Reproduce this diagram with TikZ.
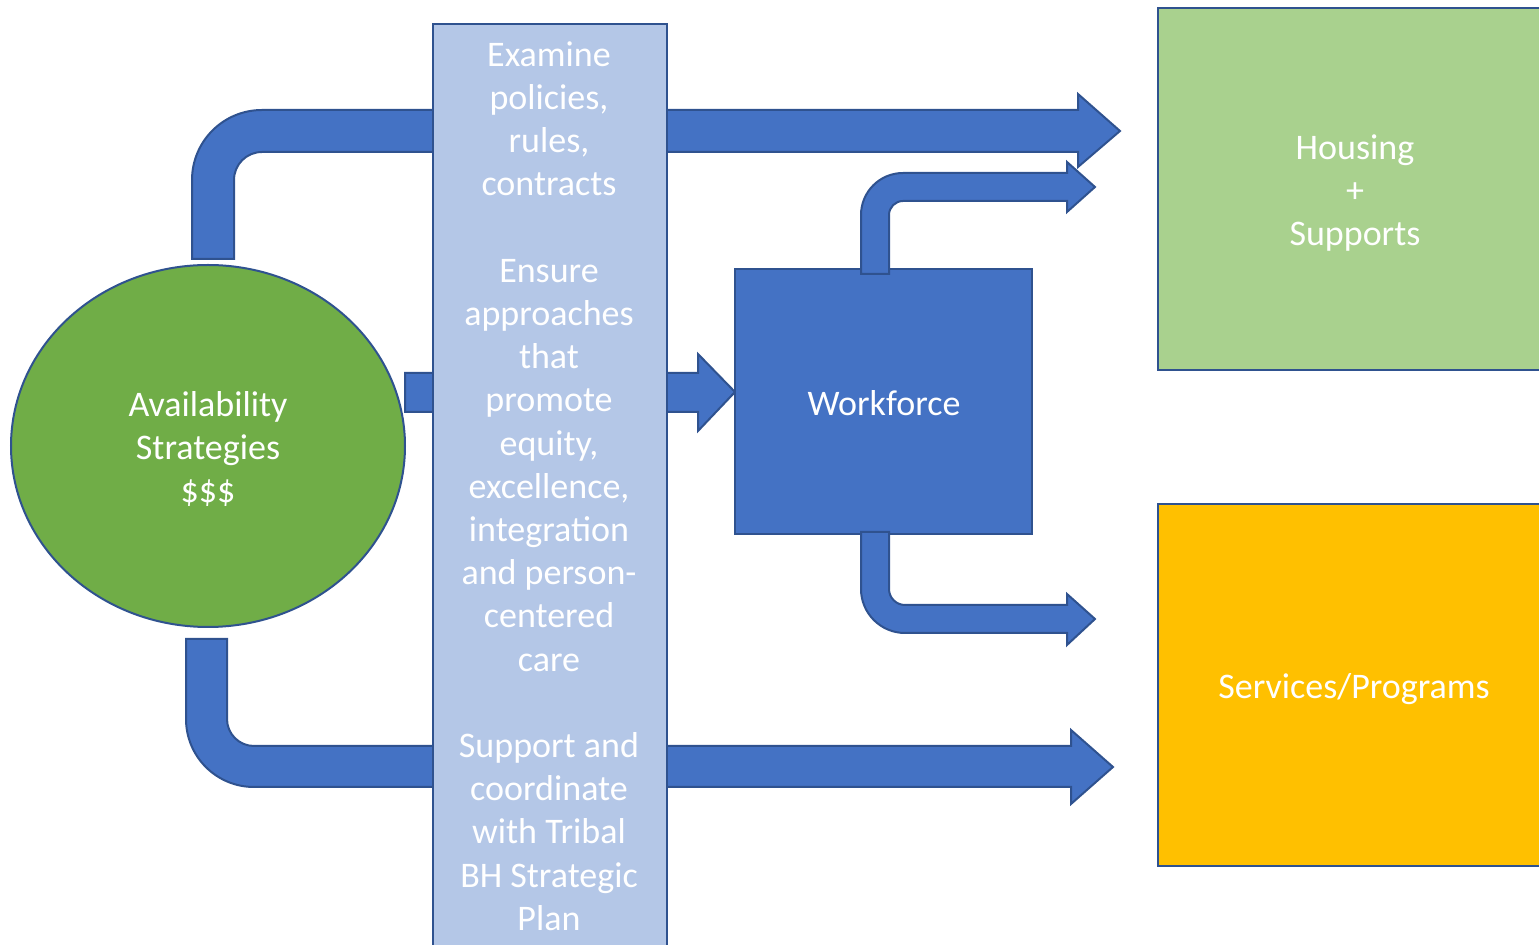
\documentclass[tikz,border=0pt]{standalone}
\usepackage{fontspec}
\setmainfont{Carlito}
\usetikzlibrary{shapes.geometric}
\definecolor{arrowblue}{HTML}{4472C4}
\definecolor{edgeblue}{HTML}{2F528F}
\definecolor{paleblue}{HTML}{B4C7E7}
\definecolor{leafgreen}{HTML}{70AD47}
\definecolor{palegreen}{HTML}{A9D18E}
\definecolor{amber}{HTML}{FFC000}

\begin{document}
\begin{tikzpicture}[x=0.5pt,y=-0.5pt,
  blueedge/.style={draw=edgeblue,line width=1pt},
  blockarrow/.style={blueedge,fill=arrowblue,line join=miter},
  whitetext/.style={text=white,font=\fontsize{18}{21.6}\selectfont,align=center,inner sep=0pt},
  panel/.style={blueedge,rectangle,inner sep=0pt}]
\useasboundingbox (0,0) rectangle (1539,945);
\clip (0,0) rectangle (1539,945);

% bent arrow from the strategies up and over to housing
\draw[blockarrow] (192,259) -- (192,180)
  .. controls (192,141.3) and (223.3,110) .. (262,110)
  -- (1078,110) -- (1078,94) -- (1120,131) -- (1078,167) -- (1078,152)
  -- (262,152) .. controls (246.5,152) and (234,164.5) .. (234,180)
  -- (234,259) -- cycle;

% bent arrow from the strategies down and over to services
\draw[blockarrow] (186,639) -- (186,719)
  .. controls (186,756.6) and (216.4,787) .. (254,787)
  -- (1071,787) -- (1071,804) -- (1113,767) -- (1071,730) -- (1071,746)
  -- (254,746) .. controls (239.1,746) and (227,733.9) .. (227,719)
  -- (227,639) -- cycle;

% straight arrow from the strategies to the workforce
\draw[blockarrow] (405,373) -- (698,373) -- (698,354) -- (735,392)
  -- (698,431) -- (698,412) -- (405,412) -- cycle;

% policy column
\node[panel,fill=paleblue,minimum width=117pt,minimum height=463pt] (col) at (550,487) {};
\node[whitetext] (coltext) at (549,486)
  {Examine\\policies,\\rules,\\contracts\\[21.6pt]
   Ensure\\approaches\\that\\promote\\equity,\\excellence,\\integration\\and person-\\centered\\care\\[21.6pt]
   Support and\\coordinate\\with Tribal\\BH Strategic\\Plan};

% strategies
\node[ellipse,blueedge,fill=leafgreen,minimum width=197pt,minimum height=181pt,inner sep=0pt]
  (avail) at (208,446) {};
\node[whitetext] (availtext) at (208,449) {Availability\\Strategies\\\$\$\$};

% workforce
\node[panel,fill=arrowblue,minimum width=148.5pt,minimum height=132.5pt] (work) at (883.5,401.5) {};
\node[whitetext] (worktext) at (884,403) {Workforce};

% workforce to housing
\draw[blockarrow] (861,274) -- (861,215)
  .. controls (861,191.8) and (879.8,173) .. (903,173)
  -- (1067,173) -- (1067,162) -- (1095,187) -- (1067,212) -- (1067,201)
  -- (903,201) .. controls (895.3,201) and (889,207.3) .. (889,215)
  -- (889,274) -- cycle;

% workforce to services
\draw[blockarrow] (861,532) -- (861,589)
  .. controls (861,613.3) and (880.7,633) .. (905,633)
  -- (1067,633) -- (1067,645) -- (1095,619) -- (1067,594) -- (1067,605)
  -- (905,605) .. controls (896.2,605) and (889,597.8) .. (889,589)
  -- (889,532) -- cycle;

% outcomes
\node[panel,fill=palegreen,minimum width=197pt,minimum height=181pt] (housing) at (1355,189) {};
\node[whitetext] (housingtext) at (1355,193) {Housing\\+\\Supports};
\node[panel,fill=amber,minimum width=197pt,minimum height=181pt] (services) at (1355,685) {};
\node[whitetext] (servicestext) at (1354,689) {Services/Programs};
\end{tikzpicture}
\end{document}
